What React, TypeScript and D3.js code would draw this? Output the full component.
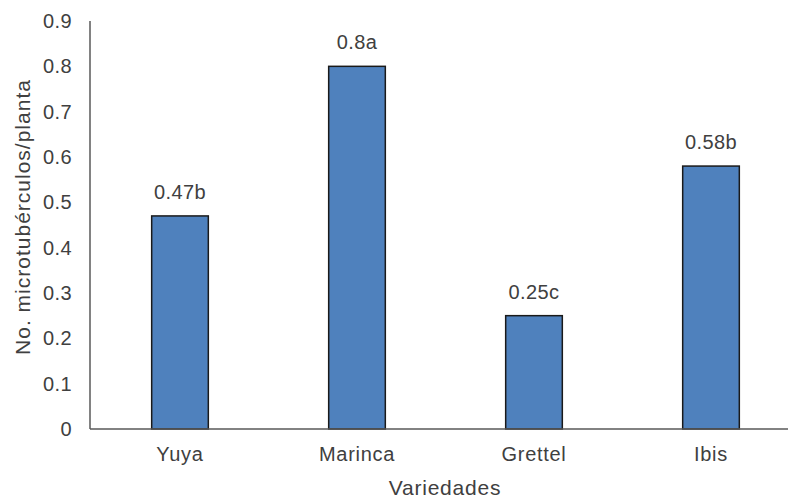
import { useEffect, useRef } from 'react';
import * as d3 from 'd3';

const categories = ['Yuya', 'Marinca', 'Grettel', 'Ibis'];
const values = [0.47, 0.8, 0.25, 0.58];
const valueLabels = ['0.47b', '0.8a', '0.25c', '0.58b'];
const yTicks = [0, 0.1, 0.2, 0.3, 0.4, 0.5, 0.6, 0.7, 0.8, 0.9];

export default function App() {
  const svgRef = useRef<SVGSVGElement>(null);

  useEffect(() => {
    if (!svgRef.current) return;
    const svg = d3.select(svgRef.current);
    svg.selectAll('*').remove();

    const width = 788;
    const height = 499;
    const left = 90;
    const top = 21;
    const bottom = 429;
    const font = 'Arial, "Liberation Sans", sans-serif';
    const textColor = '#404040';

    svg.append('rect').attr('width', width).attr('height', height).attr('fill', '#fff');

    const x = d3.scaleBand<string>()
      .domain(categories)
      .range([left + 1.5, 799.5])
      .paddingInner(0.68)
      .paddingOuter(0.34);

    const y = d3.scaleLinear().domain([0, 0.9]).range([bottom, top]);

    // bars
    svg.append('g')
      .selectAll('rect')
      .data(values)
      .join('rect')
      .attr('x', (_, i) => x(categories[i])!)
      .attr('y', d => y(d))
      .attr('width', x.bandwidth())
      .attr('height', d => y(0) - y(d))
      .attr('fill', '#4F81BD')
      .attr('stroke', '#1a1a1a')
      .attr('stroke-width', 1.5);

    // value labels
    svg.append('g')
      .selectAll('text')
      .data(values)
      .join('text')
      .attr('x', (_, i) => x(categories[i])! + x.bandwidth() / 2)
      .attr('y', d => y(d) - 17)
      .attr('text-anchor', 'middle')
      .attr('font-family', font)
      .attr('font-size', 20)
      .attr('letter-spacing', 0.4)
      .attr('fill', textColor)
      .text((_, i) => valueLabels[i]);

    // y axis line
    svg.append('line')
      .attr('x1', left).attr('x2', left)
      .attr('y1', top).attr('y2', bottom)
      .attr('stroke', '#595959').attr('stroke-width', 1.5);

    // x axis line
    svg.append('line')
      .attr('x1', left).attr('x2', width)
      .attr('y1', bottom).attr('y2', bottom)
      .attr('stroke', '#595959').attr('stroke-width', 1.5);

    // y tick labels
    svg.append('g')
      .selectAll('text')
      .data(yTicks)
      .join('text')
      .attr('x', left - 18)
      .attr('y', d => y(d) + 7)
      .attr('text-anchor', 'end')
      .attr('font-family', font)
      .attr('font-size', 20)
      .attr('letter-spacing', 0.4)
      .attr('fill', textColor)
      .text(d => (d === 0 ? '0' : d3.format('.1f')(d)));

    // x category labels
    svg.append('g')
      .selectAll('text')
      .data(categories)
      .join('text')
      .attr('x', d => x(d)! + x.bandwidth() / 2)
      .attr('y', 461)
      .attr('text-anchor', 'middle')
      .attr('font-family', font)
      .attr('font-size', 20)
      .attr('letter-spacing', 0.7)
      .attr('fill', textColor)
      .text(d => d);

    // axis titles
    svg.append('text')
      .attr('x', 445)
      .attr('y', 495)
      .attr('text-anchor', 'middle')
      .attr('font-family', font)
      .attr('font-size', 21)
      .attr('letter-spacing', 0.8)
      .attr('fill', textColor)
      .text('Variedades');

    svg.append('text')
      .attr('transform', `translate(30,217) rotate(-90)`)
      .attr('text-anchor', 'middle')
      .attr('font-family', font)
      .attr('font-size', 21)
      .attr('letter-spacing', 1)
      .attr('fill', textColor)
      .text('No. microtubérculos/planta');
  }, []);

  return (
    <svg
      ref={svgRef}
      width={788}
      height={499}
      style={{ position: 'absolute', left: 0, top: 0, display: 'block' }}
    />
  );
}
